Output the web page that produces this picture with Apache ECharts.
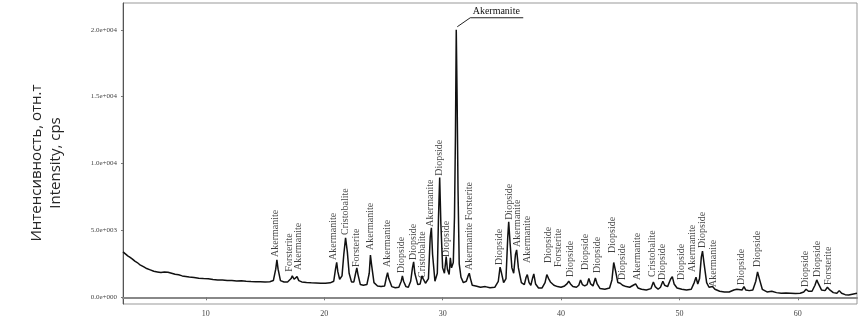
<!DOCTYPE html>
<html>
<head>
<meta charset="utf-8">
<script src="https://cdn.jsdelivr.net/npm/echarts@6/dist/echarts.min.js"></script>
<style>html,body{margin:0;padding:0;background:#fff;}#chart{width:862px;height:322px;}</style>
</head>
<body>
<div id="chart"></div>
<script>
// 2θ (degrees) of the measured pattern
const twoTheta = [
3.0,3.2,3.4,3.6,3.8,4.0,4.2,4.4,4.6,4.8,5.0,5.3,5.6,5.9,6.2,6.5,6.8,7.1,7.4,7.7,8.0,8.3,8.6,9.0,9.4,9.8,10.2,10.6,11.0,11.4,11.8,12.2,12.6,13.0,13.4,13.8,14.2,14.6,15.0,15.4,
15.7,15.9,16.0,16.1,16.3,16.6,16.9,17.2,17.3,17.45,17.6,17.7,17.85,18.1,18.5,18.9,19.3,19.7,20.1,20.5,
20.8,20.95,21.05,21.15,21.3,21.5,21.65,21.8,21.95,22.1,22.3,22.5,22.65,22.75,22.85,23.05,23.3,23.6,23.8,23.9,24.0,24.2,24.5,24.8,25.1,25.25,25.35,25.45,25.7,26.0,
26.3,26.5,26.6,26.7,26.9,27.1,27.3,27.45,27.55,27.65,27.9,28.1,28.25,28.35,28.55,28.8,28.95,29.05,29.15,29.35,29.55,29.65,29.75,29.85,30.0,30.15,30.3,30.4,30.55,30.65,
30.75,30.9,31.0,31.08,31.15,31.22,31.3,31.4,31.55,31.75,32.0,32.15,32.25,32.35,32.5,32.8,33.2,33.6,34.0,34.4,34.7,34.85,34.95,35.15,35.35,35.5,35.58,35.7,35.85,36.0,
36.15,36.25,36.4,36.65,36.9,37.05,37.15,37.3,37.45,37.6,37.7,37.85,38.1,38.4,38.65,38.8,38.95,39.1,39.25,39.4,39.7,40.0,40.3,40.5,40.65,40.8,41.0,41.3,41.5,41.65,
41.8,42.0,42.2,42.35,42.5,42.7,42.9,43.05,43.3,43.7,44.1,44.3,44.45,44.6,44.8,45.0,45.2,45.5,45.8,46.1,46.3,46.5,46.8,47.2,47.6,47.8,47.95,48.2,48.4,48.6,
48.75,49.0,49.25,49.4,49.55,49.8,50.2,50.6,51.0,51.25,51.4,51.55,51.7,51.85,51.95,52.1,52.3,52.5,52.8,53.0,53.4,53.8,54.2,54.6,54.85,55.0,55.3,55.45,55.6,55.9,
56.2,56.45,56.6,56.75,57.0,57.4,57.8,58.2,58.6,59.0,59.4,59.8,60.2,60.5,60.7,60.9,61.2,61.45,61.6,61.75,62.0,62.3,62.5,62.7,63.0,63.3,63.5,63.7,64.0,64.3,64.7,65.0
];
// intensity (cps)
const intensity = [
3400,3250,3100,2980,2850,2700,2600,2450,2350,2250,2150,2050,1950,1900,1850,1900,1880,1800,1720,1680,1600,1560,1520,1480,1430,1400,1380,1330,1300,1290,1260,1250,1220,1230,1200,1180,1170,1160,1150,1170,
1250,2100,2800,2100,1250,1150,1140,1400,1600,1350,1450,1550,1250,1150,1100,1080,1070,1050,1050,1080,
1200,2100,2620,1900,1350,1600,3200,4450,3400,1800,1150,1150,1800,2200,1700,950,900,950,1800,3150,2400,1100,850,800,850,1500,1850,1400,800,720,
750,1200,1600,1200,800,750,1200,2200,2650,1800,950,1000,1600,1400,1050,1400,4500,5200,3200,1200,1800,6000,8950,5500,2200,1800,3050,2100,1700,2950,
2200,2600,6000,12000,20000,15000,8000,2500,1500,1100,1200,1600,1800,1400,900,850,750,800,720,750,1200,2250,1900,1100,1400,4500,5650,4000,2200,1800,
3200,3550,2200,1100,950,1500,1700,1100,900,1450,1750,1000,700,700,1100,1700,1400,1150,1250,900,800,750,850,1000,1200,1000,800,750,900,1300,
950,850,950,1400,1000,850,1450,1000,650,600,700,1300,2600,2000,1100,1050,900,800,750,900,1000,700,600,550,650,1150,800,600,750,1200,
900,800,1350,1550,1000,700,600,550,600,1100,1500,1000,1400,3000,3450,2400,1100,750,800,600,450,400,400,550,600,500,550,800,550,500,
550,1200,1900,1400,600,400,450,350,300,320,300,280,300,400,600,450,450,900,1300,1000,550,500,750,550,350,300,500,300,200,180,250,300
];
// phase labels: name, 2θ position, intensity at the foot of the label
const peakNames = ['Akermanite','Forsterite','Akermanite','Akermanite','Cristobalite','Forsterite','Akermanite','Akermanite','Diopside','Diopside','Cristobalite','Akermanite','Diopside','Diopside','Akermanite Forsterite','Diopside','Diopside','Akermanite','Akermanite','Diopside','Forsterite','Diopside','Diopside','Diopside','Diopside','Diopside','Akermanite','Cristobalite','Diopside','Diopside','Akermanite','Diopside','Akermanite','Diopside','Diopside','Diopside','Diopside','Forsterite'];
const peakTheta = [15.9,17.05,17.8,20.8,21.8,22.7,23.9,25.3,26.55,27.55,28.25,28.95,29.7,30.35,32.25,34.8,35.6,36.3,37.15,38.95,39.8,40.8,42.05,43.05,44.3,45.15,46.45,47.7,48.6,50.2,51.1,51.9,52.9,55.25,56.6,60.65,61.65,62.6];
const peakLabelBase = [3020,1920,2040,2790,4660,2270,3540,2270,1820,2790,1450,5270,9080,3020,2040,2420,5790,3770,2570,2570,2270,1520,2040,1820,3320,1300,1300,1520,1300,1300,1900,3690,770,920,2270,770,1520,920];
// main peak callout
const mainPeakName = 'Akermanite';
const mainPeakTheta = 31.15;
const mainPeakValue = 20000;
// axes
const xTickValues = [10,20,30,40,50,60];
const yTickValues = [0,5000,10000,15000,20000];
const yTickLabels = ['0.0e+000','5.0e+003','1.0e+004','1.5e+004','2.0e+004'];
const yTitleLines = ['Интенсивность, отн.т','Intensity, cps'];

const chart = echarts.init(document.getElementById('chart'), null, {renderer:'canvas'});
const serif = '"Liberation Serif", "DejaVu Serif", serif';
const titleText = {type:'text', rotation:Math.PI/2, x:46, y:163,
    style:{text:yTitleLines.join('\n'), font:'15px "Open Sans", sans-serif', fill:'#262626', align:'center', verticalAlign:'middle', lineHeight:19}};
const option = {
  animation:false,
  backgroundColor:'#fff',
  grid:{left:123, top:3, right:5, bottom:18, show:true, borderColor:'#999', borderWidth:1},
  xAxis:{type:'value', min:3, max:65,
    axisLine:{lineStyle:{color:'#888', width:2}},
    axisTick:{show:true, customValues:xTickValues, length:3, lineStyle:{color:'#777'}},
    axisLabel:{customValues:xTickValues, fontFamily:serif, fontSize:8, color:'#444', margin:6},
    splitLine:{show:false}},
  yAxis:{type:'value', min:-500, max:22000,
    axisLine:{show:true, lineStyle:{color:'#555', width:1}},
    axisTick:{show:true, customValues:yTickValues, length:2, lineStyle:{color:'#777'}},
    axisLabel:{customValues:yTickValues, fontFamily:serif, fontSize:7, color:'#444', margin:6,
      formatter:function(v){const i=yTickValues.indexOf(v);return i>=0?yTickLabels[i]:'';}},
    splitLine:{show:false}},
  series:[
    {type:'line', data:twoTheta.map((t,i)=>[t,intensity[i]]), showSymbol:false, symbol:'none',
     lineStyle:{color:'#111', width:1.5}, z:3},
    {type:'scatter', data:peakTheta.map((t,i)=>[t,peakLabelBase[i],peakNames[i]]), symbolSize:0, silent:true,
     label:{show:true, formatter:p=>p.value[2], rotate:90, position:'top', distance:0, align:'left', verticalAlign:'middle',
       fontFamily:serif, fontSize:10, color:'#111'}, z:4}
  ],
  graphic:[titleText]
};
chart.setOption(option);
const p = chart.convertToPixel({gridIndex:0},[mainPeakTheta, mainPeakValue]);
chart.setOption({graphic:[
  titleText,
  {type:'polyline', shape:{points:[[p[0]+1,p[1]-3],[p[0]+14,p[1]-12],[p[0]+67,p[1]-12]]}, style:{stroke:'#222', lineWidth:1, fill:null}},
  {type:'text', x:p[0]+40, y:p[1]-18, style:{text:mainPeakName, font:'10px '+serif, fill:'#111', align:'center', verticalAlign:'middle'}}
]});
</script>
</body>
</html>
